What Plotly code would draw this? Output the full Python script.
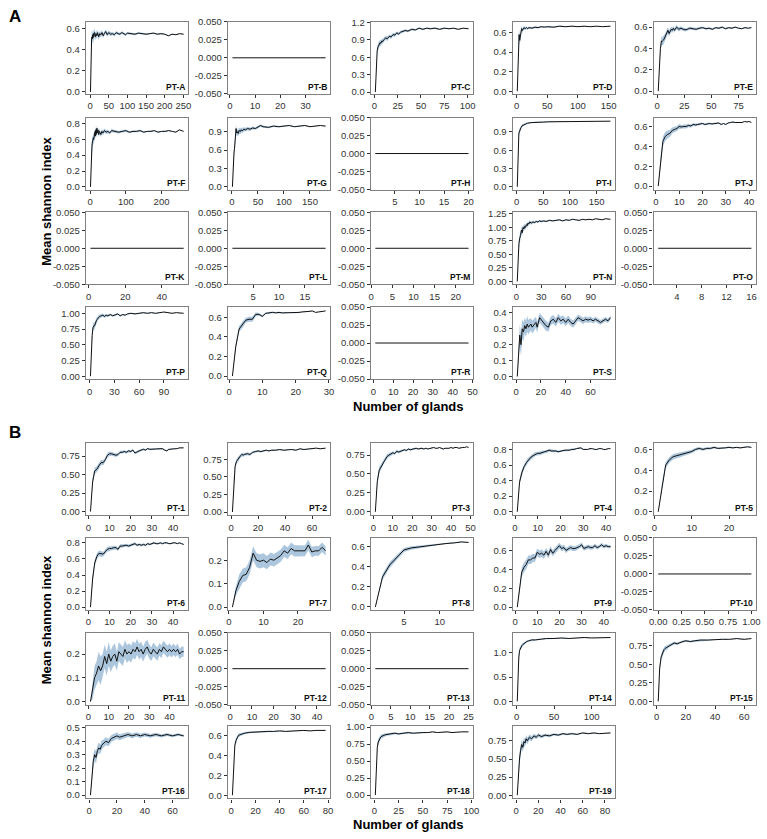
import plotly.graph_objects as go

# ---------------- data ----------------
# Panel A
A_X = [1,2,3,4,5,6,7,8,9,10,12,14,16,18,20,23,26,29,32,35,38,42,46,50,55,60,65,70,75,80,85,90,95,100,110,120,130,140,150,160,170,180,190,200,210,220,230,240,251]
A_Y = [0,0.3,0.45,0.5,0.52,0.5,0.54,0.51,0.55,0.53,0.56,0.52,0.55,0.53,0.56,0.52,0.55,0.54,0.56,0.53,0.55,0.57,0.54,0.56,0.545,0.55,0.54,0.56,0.55,0.545,0.56,0.55,0.54,0.555,0.55,0.545,0.555,0.55,0.545,0.55,0.555,0.545,0.55,0.545,0.53,0.545,0.54,0.55,0.545]
A_E = [0,0.08,0.07,0.06,0.06,0.05,0.05,0.05,0.045,0.04,0.04,0.035,0.035,0.03,0.03,0.03,0.025,0.025,0.025,0.02,0.02,0.02,0.02,0.02,0.018,0.016,0.015,0.015,0.014,0.013,0.012,0.012,0.011,0.01,0.01,0.009,0.009,0.008,0.008,0.007,0.007,0.006,0.006,0.005,0.005,0.004,0.004,0.003,0.003]

B_X = [1, 38]
B_Y = [0, 0]

C_X = [1,2,3,4,5,6,7,8,9,10,12,14,16,18,20,22,24,26,28,30,33,36,40,44,48,52,56,60,65,70,75,80,85,90,95,101]
C_Y = [0,0.5,0.72,0.78,0.82,0.85,0.84,0.88,0.87,0.9,0.93,0.92,0.96,0.95,0.99,0.98,1.02,1.0,1.03,1.04,1.06,1.05,1.08,1.07,1.1,1.08,1.1,1.09,1.1,1.08,1.1,1.09,1.1,1.08,1.1,1.09]
C_E = [0,0.08,0.07,0.06,0.05,0.05,0.05,0.04,0.04,0.04,0.035,0.035,0.03,0.03,0.03,0.03,0.025,0.025,0.025,0.02,0.02,0.02,0.02,0.015,0.015,0.015,0.012,0.012,0.01,0.01,0.01,0.008,0.008,0.006,0.005,0.004]

D_X = [1,2,3,4,5,6,7,8,9,10,12,14,16,18,20,25,30,35,40,45,50,60,70,80,90,100,110,120,130,140,153]
D_Y = [0,0.3,0.5,0.58,0.52,0.55,0.6,0.64,0.62,0.63,0.65,0.64,0.65,0.64,0.65,0.645,0.655,0.65,0.66,0.655,0.66,0.655,0.665,0.66,0.665,0.66,0.665,0.66,0.665,0.66,0.665]
D_E = [0,0.06,0.06,0.05,0.05,0.04,0.04,0.03,0.03,0.02,0.02,0.015,0.015,0.012,0.012,0.01,0.01,0.008,0.008,0.007,0.007,0.006,0.006,0.005,0.005,0.004,0.004,0.003,0.003,0.003,0.003]

E_X = [1,2,3,4,5,6,7,8,9,10,11,12,13,14,15,16,18,20,22,24,26,28,30,33,36,39,42,45,48,51,54,57,60,63,66,69,72,75,78,81,84,87]
E_Y = [0,0.25,0.4,0.47,0.47,0.48,0.5,0.52,0.55,0.57,0.54,0.56,0.58,0.57,0.59,0.57,0.6,0.58,0.59,0.58,0.575,0.58,0.59,0.585,0.58,0.59,0.595,0.585,0.59,0.58,0.595,0.59,0.6,0.585,0.595,0.59,0.6,0.59,0.585,0.595,0.59,0.595]
E_E = [0,0.05,0.05,0.04,0.04,0.04,0.035,0.035,0.03,0.03,0.03,0.025,0.025,0.025,0.02,0.02,0.02,0.02,0.018,0.016,0.015,0.015,0.014,0.013,0.012,0.012,0.011,0.01,0.01,0.01,0.009,0.009,0.008,0.008,0.007,0.007,0.006,0.006,0.005,0.005,0.004,0.004]

F_X = [1,2,3,4,5,6,7,8,9,10,11,12,13,14,15,16,17,18,19,20,22,24,26,28,30,33,36,40,45,50,55,60,70,80,90,100,110,120,130,140,150,160,170,180,190,200,210,220,230,240,250,262]
F_Y = [0,0.25,0.4,0.45,0.5,0.55,0.58,0.6,0.62,0.6,0.65,0.62,0.66,0.7,0.64,0.72,0.66,0.7,0.74,0.68,0.72,0.66,0.7,0.68,0.66,0.7,0.68,0.71,0.69,0.7,0.68,0.71,0.7,0.69,0.7,0.71,0.69,0.7,0.7,0.71,0.69,0.7,0.7,0.71,0.69,0.7,0.7,0.71,0.7,0.69,0.72,0.7]
F_E = [0,0.12,0.1,0.1,0.09,0.08,0.08,0.07,0.07,0.06,0.06,0.06,0.055,0.05,0.05,0.05,0.045,0.045,0.04,0.04,0.04,0.035,0.035,0.03,0.03,0.03,0.028,0.026,0.024,0.022,0.02,0.02,0.018,0.016,0.015,0.014,0.013,0.012,0.011,0.01,0.01,0.009,0.009,0.008,0.008,0.007,0.007,0.006,0.006,0.005,0.005,0.004]

G_X = [1,2,3,4,5,6,7,8,9,10,12,14,16,18,20,23,26,30,35,40,45,50,55,60,70,80,90,100,110,120,130,140,150,160,170,180]
G_Y = [0,0.3,0.45,0.55,0.62,0.7,0.8,0.95,0.88,0.9,0.87,0.92,0.9,0.93,0.91,0.94,0.93,0.95,0.94,0.96,0.95,0.97,1.0,0.98,0.97,0.99,0.98,0.99,1.0,0.98,0.99,1.0,0.98,0.99,1.0,0.99]
G_E = [0,0.1,0.1,0.09,0.08,0.08,0.07,0.07,0.06,0.06,0.05,0.05,0.045,0.04,0.04,0.035,0.03,0.03,0.025,0.025,0.02,0.02,0.02,0.018,0.015,0.014,0.012,0.011,0.01,0.009,0.008,0.007,0.006,0.005,0.005,0.004]

H_X = [1, 20]
H_Y = [0, 0]

I_X = [1,2,3,4,5,6,7,8,10,12,14,16,18,20,25,30,35,40,50,60,70,80,90,100,110,120,130,140,150,160,176]
I_Y = [0,0.5,0.8,0.88,0.9,0.93,0.95,0.97,1.0,1.01,1.02,1.03,1.04,1.04,1.05,1.05,1.06,1.06,1.06,1.065,1.065,1.07,1.07,1.07,1.07,1.075,1.07,1.075,1.075,1.07,1.075]
I_E = [0,0.06,0.06,0.05,0.05,0.04,0.035,0.03,0.025,0.02,0.02,0.015,0.015,0.012,0.01,0.01,0.008,0.008,0.006,0.006,0.005,0.005,0.004,0.004,0.003,0.003,0.003,0.002,0.002,0.002,0.002]

J_X = list(range(1, 42))
J_Y = [0,0.25,0.45,0.5,0.52,0.53,0.56,0.57,0.58,0.6,0.595,0.6,0.6,0.61,0.605,0.62,0.615,0.62,0.625,0.63,0.62,0.625,0.63,0.625,0.63,0.63,0.635,0.62,0.63,0.62,0.635,0.64,0.645,0.64,0.64,0.645,0.64,0.65,0.645,0.65,0.64]
J_E = [0,0.05,0.05,0.045,0.04,0.035,0.03,0.03,0.025,0.025,0.02,0.02,0.02,0.018,0.016,0.015,0.014,0.013,0.012,0.011,0.01,0.01,0.009,0.009,0.008,0.008,0.007,0.007,0.006,0.006,0.005,0.005,0.005,0.004,0.004,0.004,0.003,0.003,0.003,0.002,0.002]

K_X = [1, 52]
K_Y = [0, 0]
L_X = [1, 19]
L_Y = [0, 0]
M_X = [1, 23]
M_Y = [0, 0]

N_X = [1,2,3,4,5,6,7,8,9,10,11,12,13,14,15,16,18,20,22,24,26,28,30,33,36,40,44,48,52,56,60,64,68,72,76,80,84,88,92,96,100,104,108,114]
N_Y = [0,0.45,0.7,0.8,0.85,0.95,0.9,1.0,0.97,1.02,1.0,1.05,1.03,1.08,1.06,1.1,1.08,1.1,1.09,1.11,1.1,1.12,1.11,1.12,1.11,1.13,1.12,1.13,1.14,1.12,1.14,1.13,1.15,1.14,1.13,1.15,1.14,1.15,1.14,1.16,1.15,1.14,1.16,1.15]
N_E = [0,0.1,0.09,0.08,0.07,0.07,0.06,0.06,0.05,0.05,0.045,0.04,0.04,0.035,0.035,0.03,0.03,0.025,0.025,0.02,0.02,0.02,0.018,0.016,0.015,0.014,0.013,0.012,0.011,0.01,0.01,0.009,0.009,0.008,0.008,0.007,0.007,0.006,0.006,0.005,0.005,0.004,0.004,0.003]

O_X = [1, 16]
O_Y = [0, 0]

P_X = [1,2,3,4,5,6,7,8,9,10,12,14,16,18,20,22,25,28,31,34,37,40,43,46,50,55,60,65,70,75,80,85,90,95,100,105,110,114]
P_Y = [0,0.45,0.65,0.77,0.8,0.8,0.85,0.88,0.9,0.92,0.95,0.96,0.97,0.95,0.97,0.96,0.98,0.96,0.97,0.99,0.96,0.98,0.97,0.99,1.0,0.99,1.0,1.01,1.0,1.01,1.0,1.01,1.02,1.01,1.0,1.01,1.0,1.0]
P_E = [0,0.08,0.07,0.06,0.06,0.05,0.05,0.045,0.04,0.035,0.03,0.03,0.025,0.025,0.02,0.02,0.018,0.016,0.015,0.014,0.013,0.012,0.011,0.01,0.01,0.009,0.008,0.008,0.007,0.006,0.006,0.005,0.005,0.004,0.004,0.003,0.003,0.003]

Q_X = list(range(1, 30))
Q_Y = [0,0.3,0.48,0.52,0.57,0.58,0.58,0.63,0.63,0.61,0.64,0.645,0.65,0.645,0.65,0.645,0.645,0.65,0.645,0.645,0.65,0.655,0.655,0.66,0.665,0.65,0.655,0.66,0.665]
Q_E = [0,0.03,0.03,0.03,0.025,0.025,0.025,0.02,0.015,0.012,0.01,0.01,0.008,0.008,0.007,0.006,0.006,0.005,0.005,0.004,0.004,0.004,0.003,0.003,0.003,0.002,0.002,0.002,0.002]

R_X = [1, 48]
R_Y = [0, 0]

S_X = [1,2,3,4,5,6,7,8,9,10,11,12,13,14,15,16,17,18,19,20,22,24,26,28,30,32,34,36,38,40,42,44,46,48,50,52,54,56,58,60,62,64,66,68,70,72,74,76]
S_Y = [0,0.15,0.26,0.2,0.3,0.28,0.32,0.3,0.33,0.31,0.32,0.33,0.31,0.32,0.33,0.34,0.31,0.34,0.37,0.36,0.34,0.32,0.31,0.35,0.36,0.34,0.37,0.35,0.36,0.34,0.36,0.34,0.33,0.35,0.37,0.36,0.35,0.36,0.355,0.36,0.35,0.36,0.35,0.34,0.35,0.36,0.35,0.37]
S_E = [0,0.08,0.07,0.07,0.06,0.06,0.05,0.05,0.05,0.045,0.045,0.04,0.04,0.04,0.035,0.035,0.035,0.03,0.03,0.03,0.03,0.03,0.028,0.028,0.026,0.026,0.025,0.025,0.024,0.024,0.023,0.022,0.022,0.021,0.02,0.02,0.02,0.019,0.018,0.018,0.017,0.016,0.016,0.015,0.015,0.014,0.014,0.013]

# Panel B
P1_X = list(range(1, 46))
P1_Y = [0,0.4,0.55,0.57,0.62,0.66,0.66,0.7,0.76,0.78,0.78,0.77,0.76,0.77,0.8,0.8,0.81,0.8,0.82,0.81,0.83,0.79,0.81,0.82,0.83,0.84,0.83,0.85,0.84,0.84,0.84,0.85,0.84,0.85,0.85,0.83,0.82,0.84,0.84,0.85,0.85,0.85,0.86,0.86,0.86]
P1_E = [0,0.05,0.04,0.04,0.04,0.035,0.035,0.03,0.03,0.03,0.025,0.025,0.025,0.02,0.02,0.02,0.02,0.018,0.018,0.016,0.016,0.015,0.015,0.014,0.014,0.013,0.012,0.012,0.011,0.011,0.01,0.01,0.01,0.009,0.009,0.008,0.008,0.008,0.007,0.007,0.006,0.006,0.006,0.005,0.005]

P2_X = [1,2,3,4,5,6,7,8,9,10,12,14,16,18,20,22,24,26,28,30,33,36,39,42,45,48,51,54,57,60,63,66,70]
P2_Y = [0,0.45,0.65,0.72,0.75,0.78,0.8,0.82,0.81,0.82,0.83,0.82,0.85,0.86,0.87,0.86,0.87,0.88,0.87,0.88,0.88,0.89,0.88,0.89,0.89,0.88,0.9,0.89,0.9,0.9,0.91,0.9,0.91]
P2_E = [0,0.05,0.04,0.04,0.035,0.03,0.03,0.025,0.025,0.02,0.02,0.018,0.016,0.015,0.014,0.013,0.012,0.011,0.01,0.01,0.009,0.009,0.008,0.008,0.007,0.007,0.006,0.006,0.005,0.005,0.004,0.004,0.003]

P3_X = list(range(1, 50))
P3_Y = [0,0.4,0.55,0.6,0.65,0.7,0.73,0.75,0.76,0.78,0.77,0.8,0.79,0.8,0.81,0.82,0.81,0.83,0.82,0.83,0.83,0.84,0.83,0.84,0.84,0.83,0.84,0.83,0.84,0.84,0.85,0.84,0.84,0.85,0.84,0.83,0.84,0.84,0.84,0.85,0.84,0.85,0.85,0.84,0.85,0.85,0.85,0.86,0.85]
P3_E = [0,0.05,0.045,0.04,0.035,0.03,0.03,0.025,0.025,0.02,0.02,0.02,0.018,0.016,0.015,0.014,0.013,0.012,0.012,0.011,0.01,0.01,0.01,0.009,0.009,0.008,0.008,0.008,0.007,0.007,0.007,0.006,0.006,0.006,0.005,0.005,0.005,0.005,0.004,0.004,0.004,0.004,0.003,0.003,0.003,0.003,0.003,0.002,0.002]

P4_X = list(range(1, 43))
P4_Y = [0,0.38,0.5,0.58,0.63,0.67,0.7,0.72,0.74,0.75,0.75,0.76,0.77,0.77,0.79,0.78,0.78,0.78,0.77,0.78,0.785,0.79,0.79,0.79,0.8,0.8,0.81,0.82,0.82,0.8,0.8,0.8,0.81,0.81,0.8,0.8,0.81,0.81,0.8,0.8,0.81,0.81]
P4_E = [0,0.04,0.04,0.035,0.035,0.03,0.03,0.028,0.026,0.025,0.024,0.022,0.02,0.02,0.018,0.017,0.016,0.015,0.014,0.013,0.012,0.012,0.011,0.011,0.01,0.01,0.009,0.009,0.008,0.008,0.007,0.007,0.007,0.006,0.006,0.006,0.005,0.005,0.005,0.004,0.004,0.004]

P5_X = list(range(1, 27))
P5_Y = [0,0.25,0.45,0.5,0.53,0.54,0.55,0.56,0.57,0.58,0.6,0.61,0.6,0.61,0.61,0.62,0.61,0.61,0.615,0.62,0.615,0.62,0.615,0.62,0.625,0.62]
P5_E = [0,0.03,0.03,0.028,0.026,0.024,0.022,0.02,0.018,0.016,0.015,0.014,0.013,0.012,0.011,0.01,0.009,0.008,0.008,0.007,0.006,0.006,0.005,0.005,0.004,0.004]

P6_X = list(range(1, 46))
P6_Y = [0,0.35,0.55,0.63,0.67,0.66,0.66,0.69,0.72,0.73,0.73,0.74,0.74,0.72,0.76,0.76,0.77,0.77,0.76,0.77,0.78,0.79,0.77,0.78,0.77,0.78,0.77,0.79,0.78,0.79,0.8,0.79,0.79,0.8,0.79,0.8,0.8,0.79,0.79,0.8,0.8,0.79,0.8,0.79,0.78]
P6_E = [0,0.05,0.04,0.04,0.035,0.035,0.03,0.03,0.03,0.028,0.026,0.025,0.024,0.023,0.022,0.021,0.02,0.02,0.019,0.018,0.018,0.017,0.016,0.016,0.015,0.015,0.014,0.014,0.013,0.013,0.012,0.012,0.011,0.011,0.01,0.01,0.01,0.009,0.009,0.009,0.008,0.008,0.008,0.007,0.007]

P7_X = list(range(1, 29))
P7_Y = [0,0.07,0.11,0.135,0.14,0.17,0.23,0.2,0.195,0.2,0.19,0.205,0.2,0.21,0.22,0.24,0.23,0.25,0.24,0.24,0.24,0.24,0.265,0.235,0.24,0.24,0.255,0.24]
P7_E = [0,0.02,0.03,0.03,0.03,0.03,0.03,0.03,0.03,0.03,0.028,0.028,0.027,0.027,0.026,0.026,0.025,0.025,0.024,0.024,0.023,0.023,0.022,0.022,0.021,0.021,0.02,0.02]

P8_X = list(range(1, 15))
P8_Y = [0,0.3,0.42,0.5,0.57,0.59,0.6,0.61,0.62,0.63,0.635,0.64,0.65,0.645]
P8_E = [0,0.03,0.03,0.025,0.02,0.018,0.015,0.012,0.01,0.008,0.006,0.005,0.004,0.003]

P9_X = list(range(1, 44))
P9_Y = [0,0.2,0.37,0.42,0.45,0.5,0.5,0.52,0.52,0.58,0.56,0.57,0.55,0.59,0.55,0.61,0.57,0.6,0.62,0.65,0.62,0.63,0.6,0.62,0.63,0.62,0.62,0.63,0.64,0.66,0.62,0.63,0.64,0.63,0.63,0.65,0.63,0.64,0.66,0.64,0.65,0.64,0.64]
P9_E = [0,0.05,0.05,0.05,0.05,0.045,0.045,0.045,0.04,0.04,0.04,0.04,0.038,0.036,0.035,0.034,0.033,0.032,0.031,0.03,0.03,0.029,0.028,0.027,0.026,0.026,0.025,0.025,0.024,0.024,0.023,0.023,0.022,0.022,0.021,0.021,0.02,0.02,0.02,0.019,0.019,0.018,0.018]

P10_X = [0, 1]
P10_Y = [0, 0]

P11_X = list(range(1, 48))
P11_Y = [0,0.05,0.1,0.12,0.15,0.13,0.15,0.19,0.16,0.2,0.17,0.19,0.2,0.17,0.21,0.2,0.19,0.22,0.2,0.21,0.2,0.22,0.21,0.23,0.21,0.22,0.2,0.22,0.23,0.21,0.2,0.22,0.21,0.2,0.22,0.21,0.23,0.22,0.21,0.22,0.21,0.22,0.21,0.22,0.2,0.21,0.21]
P11_E = [0,0.04,0.05,0.05,0.06,0.06,0.05,0.05,0.05,0.05,0.045,0.045,0.045,0.04,0.04,0.04,0.04,0.038,0.038,0.036,0.036,0.035,0.034,0.034,0.033,0.032,0.032,0.031,0.03,0.03,0.029,0.029,0.028,0.028,0.027,0.027,0.026,0.026,0.025,0.025,0.024,0.024,0.023,0.023,0.022,0.022,0.021]

P12_X = [1, 44]
P12_Y = [0, 0]
P13_X = [1, 25]
P13_Y = [0, 0]

P14_X = [1,2,3,4,5,6,7,8,10,12,14,16,18,20,25,30,35,40,50,60,70,80,90,100,110,125]
P14_Y = [0,0.6,0.9,1.05,1.1,1.13,1.15,1.17,1.2,1.22,1.24,1.25,1.26,1.27,1.27,1.28,1.29,1.3,1.3,1.31,1.3,1.31,1.32,1.31,1.32,1.32]
P14_E = [0,0.08,0.07,0.06,0.05,0.045,0.04,0.035,0.03,0.025,0.02,0.02,0.018,0.016,0.014,0.012,0.011,0.01,0.009,0.008,0.007,0.006,0.005,0.005,0.004,0.003]

P15_X = [1,2,3,4,5,6,7,8,10,12,14,16,18,20,23,26,30,35,40,45,50,55,60,65]
P15_Y = [0,0.45,0.6,0.65,0.7,0.72,0.73,0.75,0.77,0.79,0.78,0.8,0.81,0.82,0.81,0.82,0.83,0.83,0.84,0.84,0.84,0.85,0.84,0.85]
P15_E = [0,0.05,0.045,0.04,0.035,0.03,0.03,0.025,0.02,0.02,0.018,0.016,0.015,0.014,0.012,0.011,0.01,0.009,0.008,0.007,0.006,0.005,0.005,0.004]

P16_X = [1,2,3,4,5,6,7,8,9,10,12,14,16,18,20,22,25,28,31,34,37,40,44,48,52,56,60,64,68]
P16_Y = [0,0.15,0.25,0.3,0.28,0.33,0.35,0.34,0.37,0.38,0.4,0.39,0.42,0.43,0.44,0.43,0.44,0.45,0.44,0.45,0.44,0.45,0.44,0.45,0.44,0.45,0.44,0.45,0.44]
P16_E = [0,0.05,0.05,0.045,0.045,0.04,0.04,0.035,0.035,0.03,0.03,0.028,0.026,0.025,0.024,0.022,0.02,0.019,0.018,0.017,0.016,0.015,0.014,0.013,0.012,0.011,0.01,0.01,0.009]

P17_X = [1,2,3,4,5,6,8,10,12,15,20,25,30,35,40,45,50,55,60,65,70,78]
P17_Y = [0,0.35,0.5,0.55,0.58,0.6,0.61,0.62,0.625,0.63,0.635,0.64,0.64,0.64,0.645,0.64,0.645,0.645,0.65,0.645,0.65,0.65]
P17_E = [0,0.03,0.03,0.025,0.02,0.018,0.015,0.012,0.01,0.009,0.008,0.007,0.006,0.005,0.005,0.004,0.004,0.003,0.003,0.003,0.002,0.002]

P18_X = [1,2,3,4,5,6,7,8,10,12,15,18,21,25,30,35,40,45,50,55,60,65,70,75,80,85,90,97]
P18_Y = [0,0.5,0.7,0.78,0.82,0.84,0.86,0.87,0.88,0.89,0.9,0.9,0.91,0.9,0.91,0.92,0.91,0.92,0.92,0.92,0.93,0.92,0.93,0.93,0.92,0.93,0.93,0.93]
P18_E = [0,0.06,0.05,0.045,0.04,0.035,0.03,0.03,0.025,0.02,0.018,0.016,0.014,0.012,0.011,0.01,0.009,0.008,0.007,0.006,0.006,0.005,0.005,0.004,0.004,0.003,0.003,0.003]

P19_X = [1,2,3,4,5,6,7,8,9,10,12,14,16,18,20,23,26,30,34,38,42,46,50,55,60,65,70,75,80,85]
P19_Y = [0,0.3,0.5,0.62,0.7,0.66,0.74,0.72,0.78,0.75,0.8,0.78,0.82,0.8,0.83,0.81,0.83,0.82,0.84,0.83,0.85,0.84,0.85,0.84,0.86,0.85,0.86,0.85,0.86,0.86]
P19_E = [0,0.08,0.08,0.07,0.07,0.06,0.06,0.05,0.05,0.045,0.04,0.035,0.03,0.028,0.025,0.022,0.02,0.018,0.016,0.015,0.014,0.012,0.011,0.01,0.009,0.008,0.007,0.006,0.005,0.005]

# Tick sets
FLAT_YT = [-0.05, -0.025, 0, 0.025, 0.05]

# table: (label, x, y, e, xticks, xdec, yticks, ydec, yrange)
PANELS = [
    ("PT-A", A_X, A_Y, A_E, [0,50,100,150,200,250], 0, [0,0.2,0.4,0.6], 1, (-0.018, 0.662)),
    ("PT-B", B_X, B_Y, None, [0,10,20,30], 0, FLAT_YT, 3, (-0.05, 0.05)),
    ("PT-C", C_X, C_Y, C_E, [0,25,50,75,100], 0, [0,0.3,0.6,0.9,1.2], 1, (-0.03, 1.21)),
    ("PT-D", D_X, D_Y, D_E, [0,50,100,150], 0, [0,0.2,0.4,0.6], 1, (-0.027, 0.71)),
    ("PT-E", E_X, E_Y, E_E, [0,25,50,75], 0, [0,0.2,0.4,0.6], 1, (-0.025, 0.65)),
    ("PT-F", F_X, F_Y, F_E, [0,100,200], 0, [0,0.2,0.4,0.6,0.8], 1, (-0.034, 0.875)),
    ("PT-G", G_X, G_Y, G_E, [0,50,100,150], 0, [0,0.3,0.6,0.9], 1, (-0.045, 1.13)),
    ("PT-H", H_X, H_Y, None, [5,10,15,20], 0, FLAT_YT, 3, (-0.05, 0.05)),
    ("PT-I", I_X, I_Y, I_E, [0,50,100,150], 0, [0,0.3,0.6,0.9], 1, (-0.045, 1.135)),
    ("PT-J", J_X, J_Y, J_E, [0,10,20,30,40], 0, [0,0.2,0.4,0.6], 1, (-0.035, 0.69)),
    ("PT-K", K_X, K_Y, None, [0,20,40], 0, FLAT_YT, 3, (-0.05, 0.05)),
    ("PT-L", L_X, L_Y, None, [5,10,15], 0, FLAT_YT, 3, (-0.05, 0.05)),
    ("PT-M", M_X, M_Y, None, [0,5,10,15,20], 0, FLAT_YT, 3, (-0.05, 0.05)),
    ("PT-N", N_X, N_Y, N_E, [0,30,60,90], 0, [0,0.25,0.5,0.75,1.0,1.25], 2, (-0.054, 1.28)),
    ("PT-O", O_X, O_Y, None, [4,8,12,16], 0, FLAT_YT, 3, (-0.05, 0.05)),
    ("PT-P", P_X, P_Y, P_E, [0,30,60,90], 0, [0,0.25,0.5,0.75,1.0], 2, (-0.045, 1.1)),
    ("PT-Q", Q_X, Q_Y, Q_E, [0,10,20,30], 0, [0,0.2,0.4,0.6], 1, (-0.03, 0.705)),
    ("PT-R", R_X, R_Y, None, [0,10,20,30,40,50], 0, FLAT_YT, 3, (-0.05, 0.05)),
    ("PT-S", S_X, S_Y, S_E, [0,20,40,60], 0, [0,0.1,0.2,0.3,0.4], 1, (-0.016, 0.437)),
    ("PT-1", P1_X, P1_Y, P1_E, [0,10,20,30,40], 0, [0,0.25,0.5,0.75], 2, (-0.05, 0.923)),
    ("PT-2", P2_X, P2_Y, P2_E, [0,20,40,60], 0, [0,0.25,0.5,0.75], 2, (-0.046, 0.98)),
    ("PT-3", P3_X, P3_Y, P3_E, [0,10,20,30,40,50], 0, [0,0.25,0.5,0.75], 2, (-0.045, 0.907)),
    ("PT-4", P4_X, P4_Y, P4_E, [0,10,20,30,40], 0, [0,0.2,0.4,0.6,0.8], 1, (-0.045, 0.88)),
    ("PT-5", P5_X, P5_Y, P5_E, [0,10,20], 0, [0,0.2,0.4,0.6], 1, (-0.033, 0.66)),
    ("PT-6", P6_X, P6_Y, P6_E, [0,10,20,30,40], 0, [0,0.2,0.4,0.6,0.8], 1, (-0.035, 0.861)),
    ("PT-7", P7_X, P7_Y, P7_E, [0,10,20], 0, [0,0.1,0.2], 1, (-0.012, 0.295)),
    ("PT-8", P8_X, P8_Y, P8_E, [5,10], 0, [0,0.2,0.4,0.6], 1, (-0.03, 0.69)),
    ("PT-9", P9_X, P9_Y, P9_E, [0,10,20,30,40], 0, [0,0.2,0.4,0.6], 1, (-0.03, 0.732)),
    ("PT-10", P10_X, P10_Y, None, [0,0.25,0.5,0.75,1.0], 2, FLAT_YT, 3, (-0.05, 0.05)),
    ("PT-11", P11_X, P11_Y, P11_E, [0,10,20,30,40,50], 0, [0,0.1,0.2], 1, (-0.013, 0.29)),
    ("PT-12", P12_X, P12_Y, None, [0,10,20,30,40], 0, FLAT_YT, 3, (-0.05, 0.05)),
    ("PT-13", P13_X, P13_Y, None, [0,5,10,15,20,25], 0, FLAT_YT, 3, (-0.05, 0.05)),
    ("PT-14", P14_X, P14_Y, P14_E, [0,50,100], 0, [0,0.5,1.0], 1, (-0.07, 1.42)),
    ("PT-15", P15_X, P15_Y, P15_E, [0,20,40,60], 0, [0,0.25,0.5,0.75], 2, (-0.045, 0.93)),
    ("PT-16", P16_X, P16_Y, P16_E, [0,20,40,60], 0, [0,0.1,0.2,0.3,0.4,0.5], 1, (-0.025, 0.51)),
    ("PT-17", P17_X, P17_Y, P17_E, [0,20,40,60,80], 0, [0,0.2,0.4,0.6], 1, (-0.033, 0.69)),
    ("PT-18", P18_X, P18_Y, P18_E, [0,25,50,75,100], 0, [0,0.25,0.5,0.75,1.0], 2, (-0.05, 1.01)),
    ("PT-19", P19_X, P19_Y, P19_E, [0,20,40,60,80], 0, [0,0.25,0.5,0.75], 2, (-0.045, 0.95)),
]

# ---------------- layout geometry ----------------
W, H = 767, 839
FONT = "Liberation Sans, Arial, Helvetica, sans-serif"
COL_LEFT = [82, 226, 371, 515, 658]
PW, PH = 104, 73
ROW_TOPS = [[16, 113, 209, 305], [443, 539, 635, 730]]
RIBBON = "rgba(70,130,180,0.45)"
AX_LINE = "#808080"
TXT = "#333333"

fig = go.Figure()
layout = {}
annotations = []


def fmt(v, d):
    return f"{v:.{d}f}"


for k, (label, xs, ys, es, xt, xdec, yt, ydec, yr) in enumerate(PANELS):
    idx = k + 1
    block = 0 if k < 19 else 1
    j = k if k < 19 else k - 19
    r, c = divmod(j, 5)
    top = ROW_TOPS[block][r]
    left = COL_LEFT[c]
    xd = [left / W, (left + PW) / W]
    yd = [1 - (top + PH) / H, 1 - top / H]
    xref = "x" if idx == 1 else f"x{idx}"
    yref = "y" if idx == 1 else f"y{idx}"
    xkey = "xaxis" if idx == 1 else f"xaxis{idx}"
    ykey = "yaxis" if idx == 1 else f"yaxis{idx}"

    n = min(len(xs), len(ys))
    xs = list(xs[:n]); ys = list(ys[:n])
    if es is not None:
        m = min(n, len(es))
        up = [ys[i] + es[i] for i in range(m)]
        lo = [ys[i] - es[i] for i in range(m)]
        fig.add_trace(go.Scatter(
            x=xs[:m] + xs[:m][::-1], y=up + lo[::-1], xaxis=xref, yaxis=yref,
            fill="toself", fillcolor=RIBBON, line=dict(width=0), mode="lines",
            hoverinfo="skip", showlegend=False))
    fig.add_trace(go.Scatter(
        x=xs, y=ys, xaxis=xref, yaxis=yref, mode="lines",
        line=dict(color="#111111", width=1), showlegend=False))

    x0, x1 = min(xs), max(xs)
    span = x1 - x0
    xr = [x0 - 0.05 * span, x1 + 0.05 * span]

    common = dict(showgrid=False, zeroline=False, showline=True, mirror=True,
                  linecolor=AX_LINE, linewidth=1.2, ticks="outside", ticklen=3,
                  tickwidth=1, tickcolor=TXT,
                  tickfont=dict(family=FONT, size=9.5, color=TXT))
    layout[xkey] = dict(domain=xd, anchor=yref, range=xr, tickmode="array",
                        tickvals=xt, ticktext=[fmt(v, xdec) for v in xt], **common)
    layout[ykey] = dict(domain=yd, anchor=xref, range=list(yr), tickmode="array",
                        tickvals=yt, ticktext=[fmt(v, ydec) for v in yt], **common)

    annotations.append(dict(
        text=f"<b>{label}</b>", xref=f"{xref} domain", yref=f"{yref} domain",
        x=1, y=0, xanchor="right", yanchor="bottom", xshift=-1, yshift=0,
        showarrow=False, font=dict(family=FONT, size=8.5, color="#111111")))

# block letters and axis titles
for letter, py in (("A", 11), ("B", 432)):
    annotations.append(dict(text=f"<b>{letter}</b>", xref="paper", yref="paper",
                            x=2 / W, y=1 - py / H, xanchor="left", yanchor="middle",
                            showarrow=False, font=dict(family=FONT, size=17, color="#000")))
for py in (198, 622):
    annotations.append(dict(text="<b>Mean shannon index</b>", xref="paper", yref="paper",
                            x=42 / W, y=1 - py / H, xanchor="center", yanchor="middle",
                            textangle=-90, showarrow=False,
                            font=dict(family=FONT, size=13, color="#000")))
for py in (406, 829):
    annotations.append(dict(text="<b>Number of glands</b>", xref="paper", yref="paper",
                            x=409 / W, y=1 - py / H, xanchor="center", yanchor="middle",
                            showarrow=False, font=dict(family=FONT, size=13, color="#000")))

fig.update_layout(
    width=W, height=H, margin=dict(l=0, r=0, t=0, b=0),
    paper_bgcolor="white", plot_bgcolor="white", showlegend=False,
    annotations=annotations, **layout)

fig.write_html(
    "out.html",
    config={"displayModeBar": False},
    post_script="document.documentElement.style.margin='0';document.body.style.margin='0';document.body.style.padding='0';document.body.style.overflow='hidden';",
)
